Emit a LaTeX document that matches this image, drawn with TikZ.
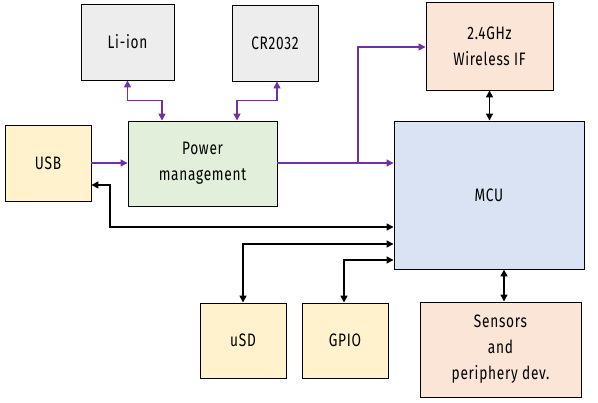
\documentclass[tikz,border=0pt]{standalone}
\usepackage{fontspec}
\setmainfont{Fira Sans}[FakeStretch=0.76,LetterSpace=4]
\usetikzlibrary{arrows.meta}
\definecolor{cgray}{HTML}{EDEDED}
\definecolor{cyel}{HTML}{FFF2CC}
\definecolor{cgreen}{HTML}{E2EFDA}
\definecolor{corange}{HTML}{FBE5D6}
\definecolor{cblue}{HTML}{DAE3F3}
\definecolor{cpurple}{HTML}{7030A0}
\tikzset{
  blk/.style={draw=black, line width=0.9pt, align=center, inner sep=0pt,
    font=\fontsize{18}{26}\selectfont},
  parr/.style={draw=cpurple, line width=1.5pt, -{Triangle[length=7pt,width=7pt]}},
  pdarr/.style={draw=cpurple, line width=1.5pt, {Triangle[length=7pt,width=7pt]}-{Triangle[length=7pt,width=7pt]}},
  bdarr/.style={draw=black, line width=1.5pt, {Triangle[length=7pt,width=7pt]}-{Triangle[length=7pt,width=7pt]}},
}
\begin{document}
\begin{tikzpicture}[x=1pt,y=-1pt]
\useasboundingbox (0,0) rectangle (598,403);
\node[blk, fill=cgray, minimum width=93pt, minimum height=76pt] (liion) at (127.5,42) {Li-ion};
\node[blk, fill=cgray, minimum width=86pt, minimum height=76pt] (cr) at (275,43) {CR2032};
\node[blk, fill=cyel, minimum width=86pt, minimum height=76pt] (usb) at (48,163) {USB};
\node[blk, fill=cgreen, minimum width=149pt, minimum height=85pt] (pm) at (202.5,163.5) {Power\\management};
\node[blk, fill=corange, minimum width=127pt, minimum height=88pt] (wl) at (489.5,46) {2.4GHz\\Wireless IF};
\node[blk, fill=cblue, minimum width=190pt, minimum height=148pt] (mcu) at (489,195) {MCU};
\node[blk, fill=cyel, minimum width=86pt, minimum height=75pt] (usd) at (243,340.5) {uSD};
\node[blk, fill=cyel, minimum width=86pt, minimum height=75pt] (gpio) at (345,340.5) {GPIO};
\node[blk, fill=corange, minimum width=161pt, minimum height=95pt] (sen) at (500.5,349.5) {Sensors\\and\\periphery dev.};

% power connections
\draw[pdarr] (liion.south) -- ++(0,20) -| ([xshift=-40.5pt]pm.north);
\draw[pdarr] ([xshift=2pt]cr.south) -- ++(0,19) -| ([xshift=34.5pt]pm.north);
\draw[parr] (usb.east) -- (usb.east -| pm.west);
\draw[parr] ([yshift=0.5pt]pm.east) -- ([yshift=0.5pt]pm.east -| mcu.west);
\coordinate (br) at (358,163);
\draw[parr] (br) |- ([yshift=-1pt]wl.west);

% data connections
\draw[bdarr] (wl.south) -- (wl.south |- mcu.north);
\draw[bdarr] ([xshift=3.5pt]sen.north) -- ([xshift=3.5pt]sen.north |- mcu.south);
\coordinate (j1) at (110,227);
\draw[bdarr] ([yshift=-22pt]usb.east) -| (j1) -- (j1 -| mcu.west);
\draw[bdarr] (usd.north) |- ([yshift=-49pt]mcu.west);
\draw[bdarr] ([xshift=-1pt]gpio.north) |- ([yshift=-65pt]mcu.west);
\end{tikzpicture}
\end{document}
